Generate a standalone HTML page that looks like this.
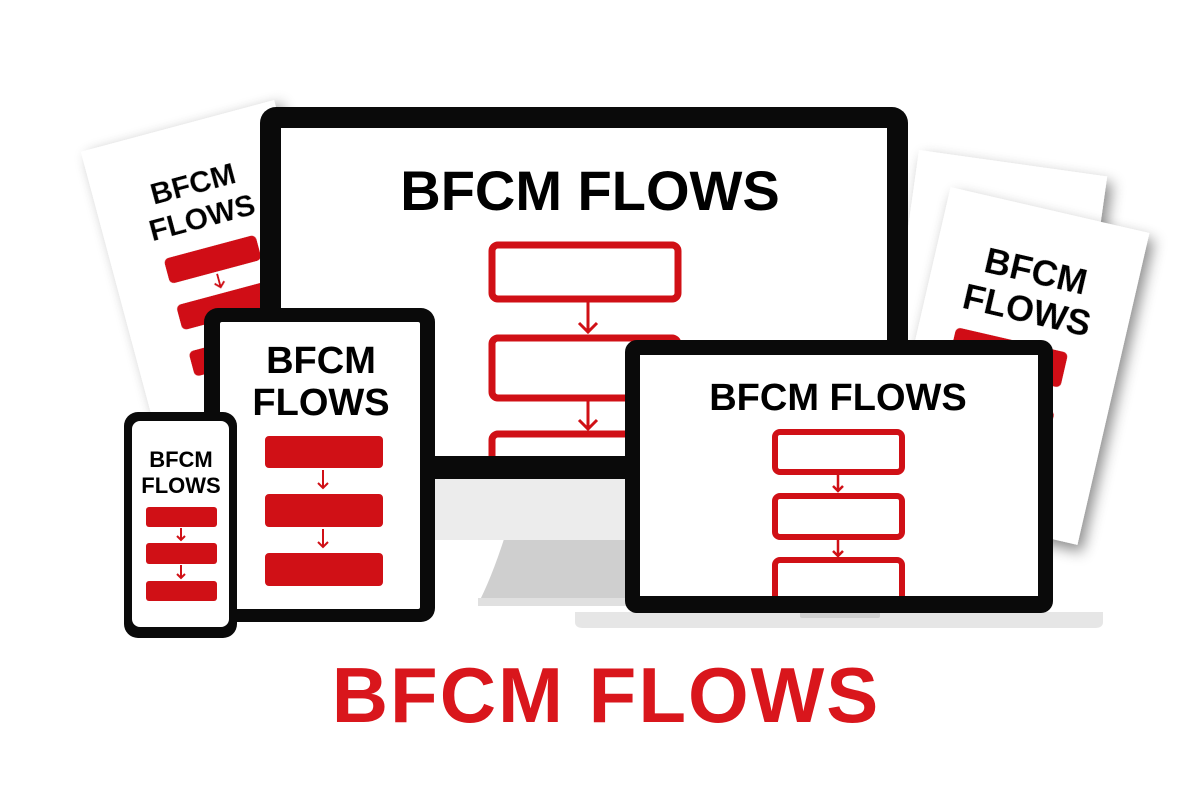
<!DOCTYPE html>
<html><head><style>
body{margin:0;background:#fff;}
svg{display:block;font-family:"Liberation Sans",Arial,sans-serif;font-weight:bold;}
</style></head><body>
<svg width="1200" height="800" viewBox="0 0 1200 800">
<defs>
<filter id="sh" x="-30%" y="-30%" width="160%" height="160%"><feDropShadow dx="6" dy="6" stdDeviation="7" flood-color="#000" flood-opacity="0.45"/></filter>
</defs>
<!-- left paper -->
<g transform="translate(215,266) rotate(-15)" filter="url(#sh)">
<rect x="-100" y="-145" width="200" height="290" fill="#fff"/>
<text x="0" y="-75" font-size="30" text-anchor="middle">BFCM</text>
<text x="0" y="-40" font-size="30" text-anchor="middle">FLOWS</text>
<rect x="-48" y="-20" width="95" height="26" rx="5" fill="#d01016"/>
<rect x="-48" y="28" width="95" height="26" rx="5" fill="#d01016"/>
<rect x="-48" y="76" width="95" height="26" rx="5" fill="#d01016"/>
<path d="M0 8v14m-5-5l5 5l5-5" stroke="#d01016" stroke-width="2" fill="none"/>
</g>
<!-- right papers -->
<g transform="translate(995,292) rotate(8)" filter="url(#sh)">
<rect x="-95" y="-130" width="190" height="260" fill="#fff"/>
</g>
<g transform="translate(1014,366) rotate(13)" filter="url(#sh)">
<rect x="-102" y="-160" width="204" height="320" fill="#fff"/>
<text x="0" y="-85" font-size="36" text-anchor="middle">BFCM</text>
<text x="0" y="-45" font-size="36" text-anchor="middle">FLOWS</text>
<rect x="-65" y="-25" width="115" height="36" rx="5" fill="#d01016"/>
<rect x="-65" y="35" width="115" height="36" rx="5" fill="#d01016"/>
</g>
<!-- monitor -->
<path d="M510 520 L660 520 L665 600 L480 600 Q495 570 510 520Z" fill="#cfcfcf"/>
<rect x="478" y="598" width="195" height="8" fill="#e0e0e0"/>
<rect x="260" y="470" width="648" height="70" rx="6" fill="#ececec"/>
<rect x="260" y="107" width="648" height="372" rx="16" fill="#0a0a0a"/>
<rect x="281" y="128" width="606" height="328" fill="#fff"/>
<text x="590" y="210" font-size="56" text-anchor="middle">BFCM FLOWS</text>
<g fill="none" stroke="#d01016" stroke-width="7">
<rect x="492" y="245" width="186" height="54" rx="6"/>
<rect x="492" y="338" width="186" height="60" rx="6"/>
<rect x="492" y="434" width="186" height="40" rx="6"/>
</g>
<g stroke="#d01016" stroke-width="3" fill="none">
<path d="M588 300v32m-9-9l9 9l9-9"/><path d="M588 399v30m-9-9l9 9l9-9"/>
</g>
<rect x="260" y="456" width="648" height="23" rx="8" fill="#0a0a0a"/>
<!-- tablet -->
<rect x="204" y="308" width="231" height="314" rx="14" fill="#0a0a0a"/>
<rect x="220" y="322" width="200" height="287" rx="2" fill="#fff"/>
<text x="321" y="373" font-size="38" text-anchor="middle">BFCM</text>
<text x="321" y="415" font-size="38" text-anchor="middle">FLOWS</text>
<g fill="#d01016">
<rect x="265" y="436" width="118" height="32" rx="4"/>
<rect x="265" y="494" width="118" height="33" rx="4"/>
<rect x="265" y="553" width="118" height="33" rx="4"/>
</g>
<g stroke="#d01016" stroke-width="2" fill="none">
<path d="M323 470v18m-5-5l5 5l5-5"/><path d="M323 529v18m-5-5l5 5l5-5"/>
</g>
<!-- phone -->
<rect x="124" y="412" width="113" height="226" rx="14" fill="#0a0a0a"/>
<rect x="132" y="421" width="97" height="206" rx="8" fill="#fff"/>
<text x="181" y="467" font-size="22" text-anchor="middle">BFCM</text>
<text x="181" y="493" font-size="22" text-anchor="middle">FLOWS</text>
<g fill="#d01016">
<rect x="146" y="507" width="71" height="20" rx="3"/>
<rect x="146" y="543" width="71" height="21" rx="3"/>
<rect x="146" y="581" width="71" height="20" rx="3"/>
</g>
<g stroke="#d01016" stroke-width="2" fill="none">
<path d="M181 528v12m-4-4l4 4l4-4"/><path d="M181 565v13m-4-4l4 4l4-4"/>
</g>
<!-- laptop -->
<path d="M575 612 H1103 V622 Q1103 628 1095 628 H583 Q575 628 575 622Z" fill="#e6e6e6"/>
<rect x="800" y="612" width="80" height="6" rx="2" fill="#cfcfcf"/>
<rect x="625" y="340" width="428" height="273" rx="12" fill="#0a0a0a"/>
<rect x="640" y="355" width="398" height="241" fill="#fff"/>
<text x="838" y="410" font-size="38" text-anchor="middle">BFCM FLOWS</text>
<g fill="none" stroke="#d01016" stroke-width="6">
<rect x="775" y="432" width="127" height="40" rx="5"/>
<rect x="775" y="496" width="127" height="41" rx="5"/>
<rect x="775" y="560" width="127" height="45" rx="5"/>
</g>
<g stroke="#d01016" stroke-width="2.5" fill="none">
<path d="M838 474v17m-5-5l5 5l5-5"/><path d="M838 539v17m-5-5l5 5l5-5"/>
</g>
<rect x="640" y="596" width="398" height="17" fill="#0a0a0a"/>
<!-- title -->
<text x="606" y="722" font-size="78" fill="#d9161c" text-anchor="middle" letter-spacing="2">BFCM FLOWS</text>
</svg>
</body></html>
